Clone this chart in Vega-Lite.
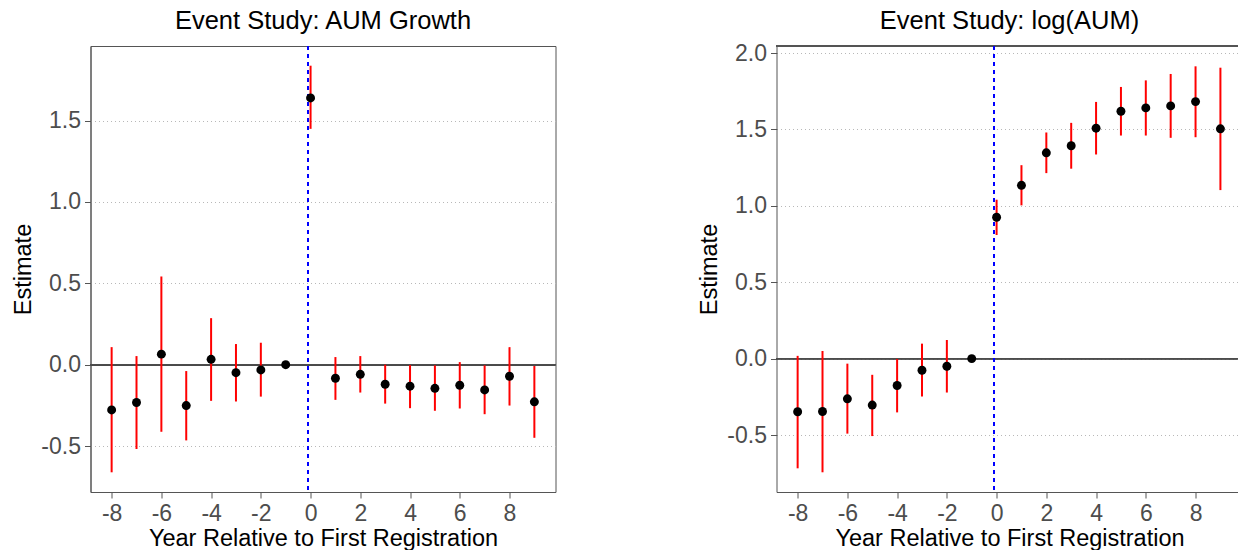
{
  "$schema": "https://vega.github.io/schema/vega-lite/v6.json",
  "padding": {"left": 10.5, "top": 8, "right": 0, "bottom": 0},
  "autosize": {"type": "pad"},
  "bounds": "flush",
  "spacing": 221,
  "background": "white",
  "config": {
    "font": "Liberation Sans",
    "view": {"stroke": null},
    "title": {"fontSize": 25.5, "fontWeight": "normal", "color": "black", "font": "Liberation Sans", "anchor": "middle"},
    "axis": {
      "labelFont": "Liberation Sans", "titleFont": "Liberation Sans",
      "labelFontSize": 23, "labelColor": "#4D4D4D",
      "titleFontSize": 23.5, "titleFontWeight": "normal", "titleColor": "black",
      "domainColor": "#555555", "tickColor": "#555555", "tickSize": 6, "tickWidth": 1, "domainWidth": 1
    },
    "axisX": {"grid": false, "labelPadding": 4.5, "titleBaseline": "alphabetic", "titleY": 53},
    "axisY": {"grid": true, "gridDash": [1, 3], "gridColor": "#B8B8B8", "gridWidth": 1, "labelPadding": 4, "titleBaseline": "alphabetic", "titleX": -60}
  },
  "datasets": {
    "growth": [
      {"t": -8, "est": -0.278, "lo": -0.661, "hi": 0.108},
      {"t": -7, "est": -0.232, "lo": -0.518, "hi": 0.053},
      {"t": -6, "est": 0.065, "lo": -0.412, "hi": 0.542},
      {"t": -5, "est": -0.251, "lo": -0.465, "hi": -0.039},
      {"t": -4, "est": 0.033, "lo": -0.222, "hi": 0.286},
      {"t": -3, "est": -0.049, "lo": -0.226, "hi": 0.127},
      {"t": -2, "est": -0.032, "lo": -0.196, "hi": 0.135},
      {"t": -1, "est": 0.0, "lo": null, "hi": null},
      {"t": 0, "est": 1.639, "lo": 1.449, "hi": 1.837},
      {"t": 1, "est": -0.083, "lo": -0.216, "hi": 0.047},
      {"t": 2, "est": -0.059, "lo": -0.171, "hi": 0.053},
      {"t": 3, "est": -0.12, "lo": -0.239, "hi": 0.0},
      {"t": 4, "est": -0.132, "lo": -0.267, "hi": -0.002},
      {"t": 5, "est": -0.145, "lo": -0.283, "hi": -0.004},
      {"t": 6, "est": -0.126, "lo": -0.269, "hi": 0.016},
      {"t": 7, "est": -0.155, "lo": -0.304, "hi": -0.004},
      {"t": 8, "est": -0.071, "lo": -0.251, "hi": 0.108},
      {"t": 9, "est": -0.228, "lo": -0.449, "hi": -0.008}
    ],
    "logaum": [
      {"t": -8, "est": -0.348, "lo": -0.718, "hi": 0.018},
      {"t": -7, "est": -0.346, "lo": -0.744, "hi": 0.05},
      {"t": -6, "est": -0.263, "lo": -0.491, "hi": -0.033},
      {"t": -5, "est": -0.304, "lo": -0.507, "hi": -0.106},
      {"t": -4, "est": -0.176, "lo": -0.352, "hi": -0.002},
      {"t": -3, "est": -0.076, "lo": -0.248, "hi": 0.098},
      {"t": -2, "est": -0.05, "lo": -0.222, "hi": 0.122},
      {"t": -1, "est": 0.0, "lo": null, "hi": null},
      {"t": 0, "est": 0.925, "lo": 0.809, "hi": 1.04},
      {"t": 1, "est": 1.134, "lo": 1.003, "hi": 1.266},
      {"t": 2, "est": 1.347, "lo": 1.214, "hi": 1.48},
      {"t": 3, "est": 1.393, "lo": 1.243, "hi": 1.543},
      {"t": 4, "est": 1.508, "lo": 1.336, "hi": 1.68},
      {"t": 5, "est": 1.619, "lo": 1.46, "hi": 1.778},
      {"t": 6, "est": 1.641, "lo": 1.46, "hi": 1.821},
      {"t": 7, "est": 1.654, "lo": 1.445, "hi": 1.863},
      {"t": 8, "est": 1.682, "lo": 1.449, "hi": 1.913},
      {"t": 9, "est": 1.504, "lo": 1.103, "hi": 1.904}
    ]
  },
  "hconcat": [
    {
      "width": 465,
      "height": 446,
      "title": {"text": "Event Study: AUM Growth", "offset": 11},
      "view": {"stroke": "#555555", "strokeWidth": 1},
      "data": {"name": "growth"},
      "layer": [
        {
          "mark": {"type": "rule", "color": "#4D4D4D", "strokeWidth": 1},
          "encoding": {"y": {"datum": 0}}
        },
        {
          "mark": {"type": "rule", "color": "#0000FF", "strokeWidth": 1, "strokeDash": [4, 4]},
          "encoding": {"x": {"datum": -0.1}}
        },
        {
          "transform": [{"filter": "isValid(datum.lo)"}],
          "mark": {"type": "rule", "color": "#FF0000", "strokeWidth": 2},
          "encoding": {
            "x": {"field": "t", "type": "quantitative"},
            "y": {"field": "lo", "type": "quantitative"},
            "y2": {"field": "hi"}
          }
        },
        {
          "mark": {"type": "circle", "color": "black", "opacity": 1, "size": 80},
          "encoding": {
            "x": {
              "field": "t", "type": "quantitative",
              "scale": {"domain": [-8.85, 9.85], "nice": false, "zero": false},
              "axis": {"title": "Year Relative to First Registration", "values": [-8, -6, -4, -2, 0, 2, 4, 6, 8], "labelExpr": "replace(format(datum.value, 'd'), '\u2212', '-')"}
            },
            "y": {
              "field": "est", "type": "quantitative",
              "scale": {"domain": [-0.782, 1.958], "nice": false, "zero": false},
              "axis": {"title": "Estimate", "values": [-0.5, 0, 0.5, 1, 1.5], "labelExpr": "replace(format(datum.value, '.1f'), '\u2212', '-')"}
            }
          }
        }
      ]
    },
    {
      "width": 461,
      "height": 446,
      "title": {"text": "Event Study: log(AUM)", "offset": 7.5, "dx": 2.5},
      "data": {"name": "logaum"},
      "layer": [
        {
          "mark": {"type": "rule", "color": "#4D4D4D", "strokeWidth": 1},
          "encoding": {"y": {"datum": 0}}
        },
        {
          "mark": {"type": "rule", "color": "#555555", "strokeWidth": 1},
          "encoding": {"y": {"datum": 2.046}}
        },
        {
          "mark": {"type": "rule", "color": "#0000FF", "opacity": 0.6, "strokeWidth": 1, "strokeDash": [4, 4]},
          "encoding": {"x": {"datum": -0.1}}
        },
        {
          "transform": [{"filter": "isValid(datum.lo)"}],
          "mark": {"type": "rule", "color": "#FF0000", "strokeWidth": 2},
          "encoding": {
            "x": {"field": "t", "type": "quantitative"},
            "y": {"field": "lo", "type": "quantitative"},
            "y2": {"field": "hi"}
          }
        },
        {
          "mark": {"type": "circle", "color": "black", "opacity": 1, "size": 80},
          "encoding": {
            "x": {
              "field": "t", "type": "quantitative",
              "scale": {"domain": [-8.85, 9.687], "nice": false, "zero": false},
              "axis": {"title": "Year Relative to First Registration", "titleX": 233, "values": [-8, -6, -4, -2, 0, 2, 4, 6, 8], "labelExpr": "replace(format(datum.value, 'd'), '\u2212', '-')"}
            },
            "y": {
              "field": "est", "type": "quantitative",
              "scale": {"domain": [-0.873, 2.046], "nice": false, "zero": false},
              "axis": {"title": "Estimate", "values": [-0.5, 0, 0.5, 1, 1.5, 2], "labelExpr": "replace(format(datum.value, '.1f'), '\u2212', '-')"}
            }
          }
        }
      ]
    }
  ]
}
